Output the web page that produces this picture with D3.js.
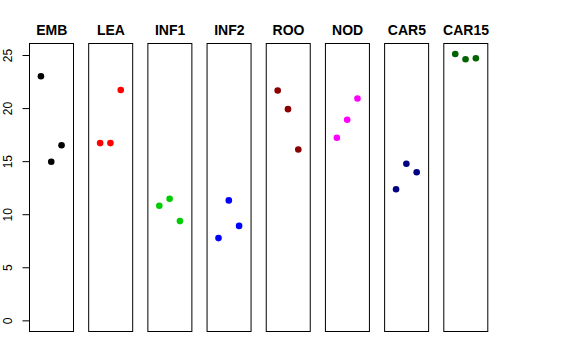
<!DOCTYPE html>
<html><head><meta charset="utf-8">
<script src="https://cdn.jsdelivr.net/npm/d3@7"></script>
<style>body{margin:0;background:#fff}svg{display:block}</style>
</head><body>
<script>
const categories = ["EMB","LEA","INF1","INF2","ROO","NOD","CAR5","CAR15"];
const colors = ["#000000","#FF0000","#00CD00","#0000FF","#8B0000","#FF00FF","#000080","#006400"];
const rep1 = [23.0, 16.7, 10.8, 7.75, 21.65, 17.2, 12.35, 25.1];
const rep2 = [14.95, 16.7, 11.45, 11.3, 19.9, 18.9, 14.75, 24.6];
const rep3 = [16.5, 21.7, 9.35, 8.9, 16.1, 20.9, 13.95, 24.7];
const yTicks = [0, 5, 10, 15, 20, 25];

(function(){
const W = 576, H = 360;
const svg = d3.select("body").append("svg").attr("width", W).attr("height", H);

const plotTop = 43.3, plotBottom = 331;
const ymax = 25.1;
const pad = ymax * 0.04;
const y = d3.scaleLinear().domain([-pad, ymax + pad]).range([plotBottom, plotTop]);

const panelLeft = d3.scaleLinear().domain([0, 7]).range([29, 443.3]);
const pw = 44.5;
const x = d3.scaleLinear().domain([-0.16, 4.16]).range([0, pw]);

const yAxis = d3.axisLeft(y).tickValues(yTicks).tickSize(7).tickFormat(d3.format("d"));
const ga = svg.append("g").attr("transform", `translate(${Math.round(panelLeft(0))+0.5},0)`).call(yAxis);
ga.select(".domain").remove();
ga.selectAll(".tick line").attr("stroke", "#000");
ga.selectAll(".tick text")
  .attr("x", 0).attr("y", 0).attr("dy", null)
  .attr("transform", "translate(-17.5,0) rotate(-90)")
  .attr("text-anchor", "middle")
  .attr("font-family", "Liberation Sans, Arial, sans-serif")
  .attr("font-size", 12).attr("fill", "#000");

categories.forEach((c, i) => {
  const lx = panelLeft(i);
  const g = svg.append("g").attr("transform", `translate(${lx},0)`);
  g.append("rect").attr("x", 0.5).attr("y", Math.round(plotTop)+0.5)
    .attr("width", pw - 0.5).attr("height", Math.round(plotBottom) - Math.round(plotTop))
    .attr("fill", "none").attr("stroke", "#000").attr("stroke-width", 1);
  g.append("text").attr("x", pw/2 + 0.5).attr("y", 34.5).attr("text-anchor", "middle")
    .attr("font-family", "Liberation Sans, Arial, sans-serif").attr("font-weight", "bold")
    .attr("font-size", 14).text(c);
  const vals = [rep1[i], rep2[i], rep3[i]];
  g.selectAll("circle").data(vals).enter().append("circle")
    .attr("cx", (d, j) => x(j + 1)).attr("cy", d => y(d)).attr("r", 3.3)
    .attr("fill", colors[i]);
});
})();
</script>
</body></html>
